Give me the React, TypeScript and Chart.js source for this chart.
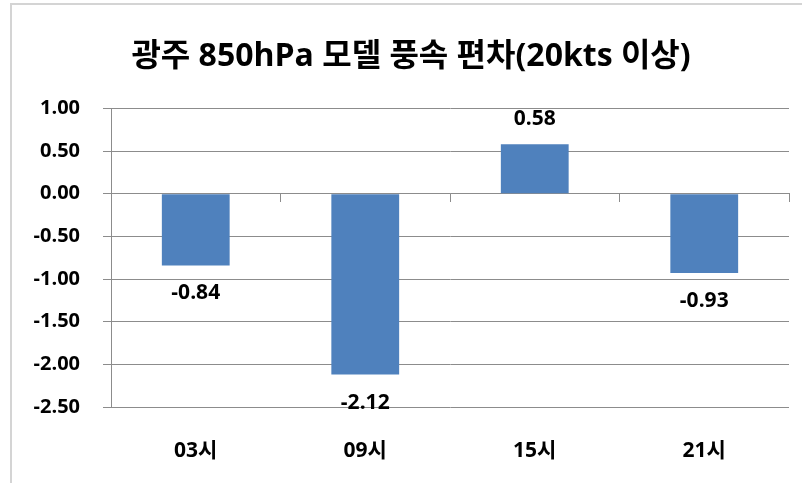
import React, { useEffect, useRef } from "react";
import { Chart, registerables } from "chart.js";

Chart.register(...registerables);

const titleText = "광주 850hPa 모델 풍속 편차(20kts 이상)";
const categories = ["03시", "09시", "15시", "21시"];
const deviations = [-0.84, -2.12, 0.58, -0.93];
const yMin = -2.5;
const yMax = 1.0;
const yStep = 0.5;

const FONT = "'Open Sans', 'Noto Sans CJK KR', sans-serif";
const GRID = "#8c8c8c";
const BAR = "#4F81BD";

const framePlugin = {
  id: "frame",
  beforeDraw(chart: any) {
    const ctx = chart.ctx;
    ctx.save();
    ctx.fillStyle = "#ffffff";
    ctx.fillRect(0, 0, chart.width, chart.height);
    ctx.strokeStyle = "#d4d4d4";
    ctx.lineWidth = 2;
    ctx.strokeRect(11, 4, chart.width + 50, chart.height + 50);
    ctx.restore();
  },
};

const labelPlugin = {
  id: "valueLabels",
  afterDatasetsDraw(chart: any) {
    const ctx = chart.ctx;
    const meta = chart.getDatasetMeta(0);
    const data = chart.data.datasets[0].data as number[];
    ctx.save();
    ctx.font = `bold 21px ${FONT}`;
    ctx.fillStyle = "#000";
    ctx.textAlign = "center";
    ctx.textBaseline = "middle";
    meta.data.forEach((bar: any, i: number) => {
      const v = data[i];
      const y = v < 0 ? bar.y + 28 : bar.y - 25;
      ctx.fillText(v.toFixed(2), bar.x, y);
    });
    ctx.restore();
  },
};

export default function App() {
  const ref = useRef<HTMLCanvasElement>(null);
  useEffect(() => {
    if (!ref.current) return;
    const chart = new Chart(ref.current, {
      type: "bar",
      data: {
        labels: categories,
        datasets: [
          {
            data: deviations,
            backgroundColor: BAR,
            borderWidth: 0,
            barPercentage: 0.4,
            categoryPercentage: 1,
            xAxisID: "x",
          },
        ],
      },
      options: {
        animation: false,
        responsive: false,
        maintainAspectRatio: false,
        layout: { padding: { left: 33, right: 13, top: 0, bottom: 0 } },
        plugins: {
          legend: { display: false },
          tooltip: { enabled: false },
          title: {
            display: true,
            text: titleText,
            color: "#000",
            font: { family: FONT, size: 32, weight: "bold", lineHeight: 1.2 },
            padding: { top: 38, bottom: 32 },
          },
        },
        scales: {
          x: {
            type: "category",
            position: "bottom",
            offset: true,
            grid: { display: false, drawTicks: false },
            border: { display: false },
            ticks: {
              color: "#000",
              font: { family: FONT, size: 21, weight: "bold" },
              padding: 31,
              maxRotation: 0,
            },
            afterFit(scale: any) {
              scale.height = 76;
            },
          },
          x2: {
            type: "category",
            position: { y: 0 } as any,
            offset: true,
            grid: {
              offset: true,
              drawOnChartArea: false,
              drawTicks: true,
              tickLength: 8,
              color: GRID,
            },
            border: { display: true, color: GRID, width: 1 },
            ticks: { display: false },
          },
          y: {
            type: "linear",
            min: yMin,
            max: yMax,
            ticks: {
              stepSize: yStep,
              color: "#000",
              font: { family: FONT, size: 20, weight: "bold" },
              padding: 23,
              callback: (v: any) => Number(v).toFixed(2),
            },
            grid: { color: GRID, tickLength: 8, drawTicks: true },
            border: { display: true, color: GRID },
            afterFit(scale: any) {
              scale.width = 78;
            },
          },
        },
      },
      plugins: [framePlugin, labelPlugin],
    });
    return () => chart.destroy();
  }, []);
  return (
    <div style={{ position: "fixed", left: 0, top: 0, width: 802, height: 483 }}>
      <canvas ref={ref} width={802} height={483} style={{ width: 802, height: 483 }} />
    </div>
  );
}
